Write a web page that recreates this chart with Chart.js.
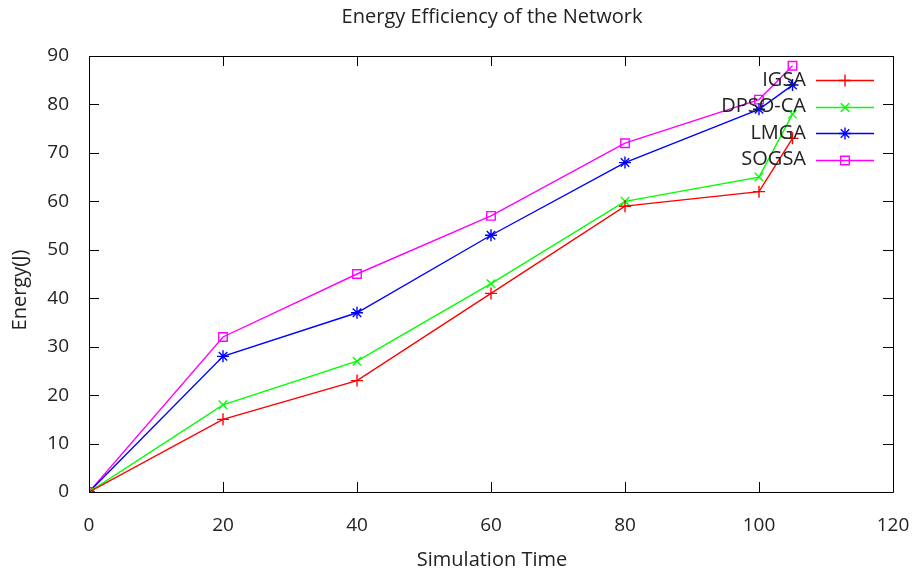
<!DOCTYPE html>
<html>
<head>
<meta charset="utf-8">
<script src="https://cdn.jsdelivr.net/npm/chart.js@4.4.0/dist/chart.umd.min.js"></script>
<style>
    html, body { margin: 0; padding: 0; background: #fff; }
    #wrap { width: 920px; height: 571px; }
</style>
</head>
<body>
<div id="wrap"><canvas id="energy-chart" width="920" height="571"></canvas></div>
<script>
const simTimes = [0, 20, 40, 60, 80, 100, 105];
const igsa = [0, 15, 23, 41, 59, 62, 73];
const dpsoCa = [0, 18, 27, 43, 60, 65, 78];
const lmga = [0, 28, 37, 53, 68, 79, 84];
const sogsa = [0, 32, 45, 57, 72, 81, 88];
const xTicks = [0, 20, 40, 60, 80, 100, 120];
const yTicks = [0, 10, 20, 30, 40, 50, 60, 70, 80, 90];

const FONT = "'Open Sans', 'DejaVu Sans', sans-serif";
const TEXT = "#222";

function toPoints(values) {
    return simTimes.map(function (t, i) {
        return { x: t, y: values[i] };
    });
}

function makeSet(label, values, color, style) {
    return {
        label: label,
        data: toPoints(values),
        borderColor: color,
        backgroundColor: "rgba(0,0,0,0)",
        borderWidth: 1.4,
        pointStyle: style,
        pointRadius: 6,
        pointBorderColor: color,
        pointBorderWidth: 1.4,
        pointBackgroundColor: "rgba(0,0,0,0)",
        tension: 0,
    };
}

const datasets = [
    makeSet("IGSA", igsa, "#ff0000", "cross"),
    makeSet("DPSO-CA", dpsoCa, "#00ff00", "crossRot"),
    makeSet("LMGA", lmga, "#0000ff", "star"),
    makeSet("SOGSA", sogsa, "#ff00ff", "rect"),
];

// frame, inward ticks (gnuplot style), titles and legend
const gnuplotLook = {
    id: "gnuplotLook",
    afterDraw: function (chart) {
        const c = chart.ctx;
        const a = chart.chartArea;
        const xs = chart.scales.x;
        const ys = chart.scales.y;
        c.save();
        c.strokeStyle = "#000";
        c.lineWidth = 1;
        c.beginPath();
        c.rect(a.left + 0.5, a.top + 0.5, a.right - a.left, a.bottom - a.top);
        xTicks.forEach(function (v) {
            const px = Math.round(xs.getPixelForValue(v)) + 0.5;
            c.moveTo(px, a.bottom);
            c.lineTo(px, a.bottom - 10);
            c.moveTo(px, a.top);
            c.lineTo(px, a.top + 10);
        });
        yTicks.forEach(function (v) {
            const py = Math.round(ys.getPixelForValue(v)) + 0.5;
            c.moveTo(a.left, py);
            c.lineTo(a.left + 10, py);
            c.moveTo(a.right, py);
            c.lineTo(a.right - 10, py);
        });
        c.stroke();

        c.fillStyle = TEXT;
        c.textAlign = "center";
        c.textBaseline = "middle";
        c.font = "20px " + FONT;
        c.fillText("Energy Efficiency of the Network", 492, 17);
        c.fillText("Simulation Time", 492, 560);
        c.save();
        c.translate(20, 290);
        c.rotate(-Math.PI / 2);
        c.fillText("Energy(J)", 0, 0);
        c.restore();

        // legend: label right-aligned, line sample with marker
        c.font = "20px " + FONT;
        c.textAlign = "right";
        chart.data.datasets.forEach(function (ds, i) {
            const y = 80 + i * 26.5;
            const ly = Math.round(y) + 0.5;
            c.fillStyle = TEXT;
            c.fillText(ds.label, 806, y);
            c.strokeStyle = ds.borderColor;
            c.fillStyle = "rgba(0,0,0,0)";
            c.lineWidth = 1.4;
            c.beginPath();
            c.moveTo(816, ly);
            c.lineTo(874, ly);
            c.stroke();
            Chart.helpers.drawPoint(c, {
                pointStyle: ds.pointStyle,
                radius: 6,
                borderWidth: 1.4,
                rotation: 0,
            }, 845, ly);
        });
        c.restore();
    },
};

const chartOptions = {
    responsive: false,
    animation: false,
    layout: { padding: { top: 56, right: 27, left: 0, bottom: 0 } },
    plugins: {
        legend: { display: false },
        title: { display: false },
        tooltip: { enabled: false },
    },
    scales: {
        x: {
            type: "linear",
            min: 0,
            max: 120,
            afterFit: function (scale) {
                scale.height = 79;
                scale.paddingRight = 0;
            },
            afterBuildTicks: function (scale) {
                scale.ticks = xTicks.map(function (v) { return { value: v }; });
            },
            grid: { display: false },
            border: { display: false },
            ticks: { color: TEXT, font: { family: FONT, size: 19 }, padding: 14, maxRotation: 0 },
        },
        y: {
            type: "linear",
            min: 0,
            max: 90,
            afterFit: function (scale) { scale.width = 89; },
            afterBuildTicks: function (scale) {
                scale.ticks = yTicks.map(function (v) { return { value: v }; });
            },
            grid: { display: false },
            border: { display: false },
            ticks: { color: TEXT, font: { family: FONT, size: 19 }, padding: 12 },
        },
    },
};

new Chart(document.getElementById("energy-chart"), {
    type: "line",
    data: { datasets: datasets },
    options: chartOptions,
    plugins: [gnuplotLook],
});
</script>
</body>
</html>
